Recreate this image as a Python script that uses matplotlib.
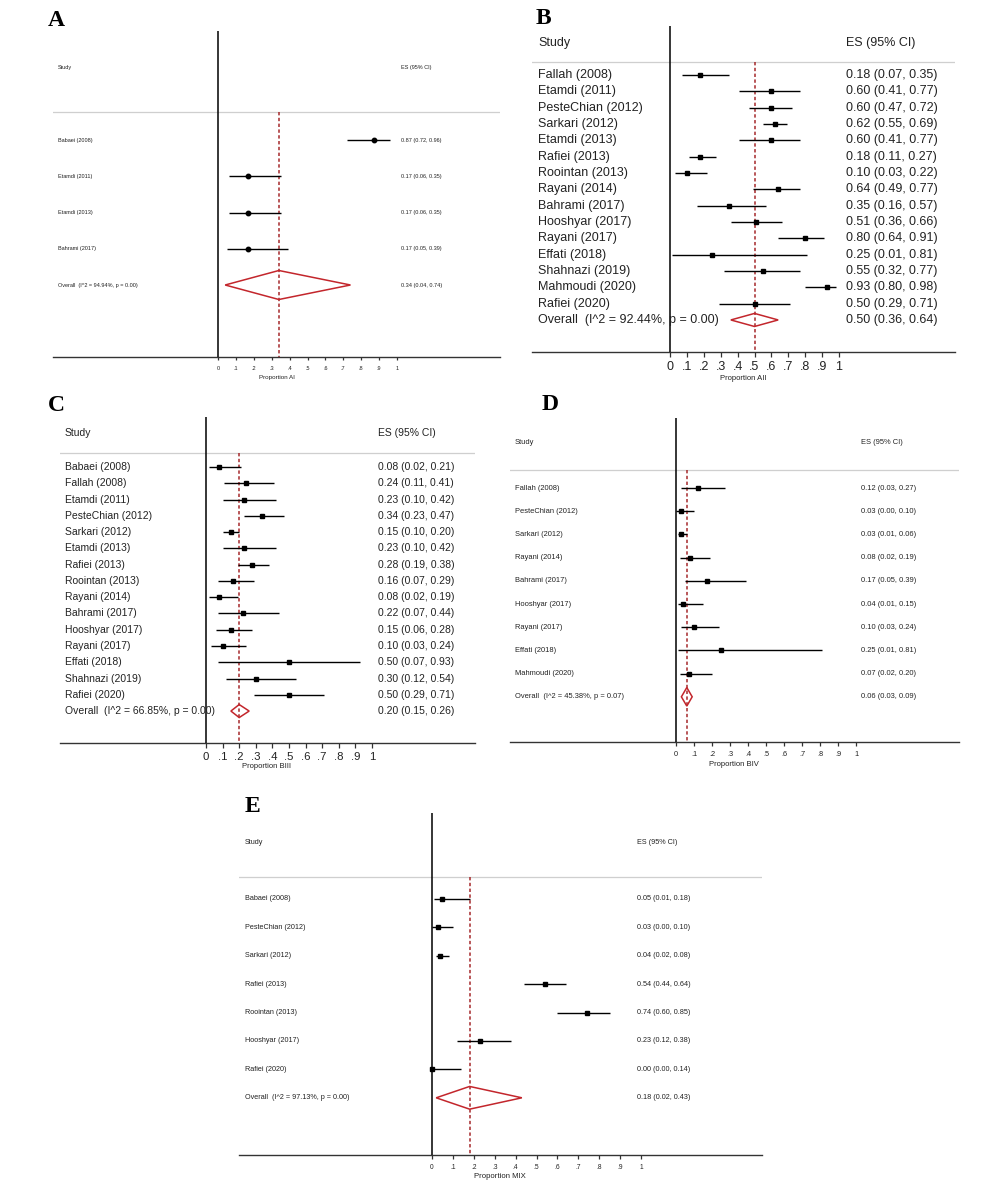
import numpy as np
import matplotlib
matplotlib.use("Agg")
import matplotlib.pyplot as plt
from matplotlib.patches import Polygon

plt.rcParams['font.family'] = ['Liberation Sans', 'DejaVu Sans']

# ---------------- DATA ----------------
tick_values = [0, .1, .2, .3, .4, .5, .6, .7, .8, .9, 1]
tick_labels = ['0', '.1', '.2', '.3', '.4', '.5', '.6', '.7', '.8', '.9', '1']

a_studies = ['Babaei (2008)', 'Etamdi (2011)', 'Etamdi (2013)', 'Bahrami (2017)']
a_es = [0.87, 0.17, 0.17, 0.17]
a_lo = [0.72, 0.06, 0.06, 0.05]
a_hi = [0.96, 0.35, 0.35, 0.39]
a_overall = (0.34, 0.04, 0.74)
a_overall_label = 'Overall  (I^2 = 94.94%, p = 0.00)'

b_studies = ['Fallah (2008)', 'Etamdi (2011)', 'PesteChian (2012)', 'Sarkari (2012)',
             'Etamdi (2013)', 'Rafiei (2013)', 'Roointan (2013)', 'Rayani (2014)',
             'Bahrami (2017)', 'Hooshyar (2017)', 'Rayani (2017)', 'Effati (2018)',
             'Shahnazi (2019)', 'Mahmoudi (2020)', 'Rafiei (2020)']
b_es = [0.18, 0.60, 0.60, 0.62, 0.60, 0.18, 0.10, 0.64, 0.35, 0.51, 0.80, 0.25, 0.55, 0.93, 0.50]
b_lo = [0.07, 0.41, 0.47, 0.55, 0.41, 0.11, 0.03, 0.49, 0.16, 0.36, 0.64, 0.01, 0.32, 0.80, 0.29]
b_hi = [0.35, 0.77, 0.72, 0.69, 0.77, 0.27, 0.22, 0.77, 0.57, 0.66, 0.91, 0.81, 0.77, 0.98, 0.71]
b_overall = (0.50, 0.36, 0.64)
b_overall_label = 'Overall  (I^2 = 92.44%, p = 0.00)'

c_studies = ['Babaei (2008)', 'Fallah (2008)', 'Etamdi (2011)', 'PesteChian (2012)',
             'Sarkari (2012)', 'Etamdi (2013)', 'Rafiei (2013)', 'Roointan (2013)',
             'Rayani (2014)', 'Bahrami (2017)', 'Hooshyar (2017)', 'Rayani (2017)',
             'Effati (2018)', 'Shahnazi (2019)', 'Rafiei (2020)']
c_es = [0.08, 0.24, 0.23, 0.34, 0.15, 0.23, 0.28, 0.16, 0.08, 0.22, 0.15, 0.10, 0.50, 0.30, 0.50]
c_lo = [0.02, 0.11, 0.10, 0.23, 0.10, 0.10, 0.19, 0.07, 0.02, 0.07, 0.06, 0.03, 0.07, 0.12, 0.29]
c_hi = [0.21, 0.41, 0.42, 0.47, 0.20, 0.42, 0.38, 0.29, 0.19, 0.44, 0.28, 0.24, 0.93, 0.54, 0.71]
c_overall = (0.20, 0.15, 0.26)
c_overall_label = 'Overall  (I^2 = 66.85%, p = 0.00)'

d_studies = ['Fallah (2008)', 'PesteChian (2012)', 'Sarkari (2012)', 'Rayani (2014)',
             'Bahrami (2017)', 'Hooshyar (2017)', 'Rayani (2017)', 'Effati (2018)',
             'Mahmoudi (2020)']
d_es = [0.12, 0.03, 0.03, 0.08, 0.17, 0.04, 0.10, 0.25, 0.07]
d_lo = [0.03, 0.00, 0.01, 0.02, 0.05, 0.01, 0.03, 0.01, 0.02]
d_hi = [0.27, 0.10, 0.06, 0.19, 0.39, 0.15, 0.24, 0.81, 0.20]
d_overall = (0.06, 0.03, 0.09)
d_overall_label = 'Overall  (I^2 = 45.38%, p = 0.07)'

e_studies = ['Babaei (2008)', 'PesteChian (2012)', 'Sarkari (2012)', 'Rafiei (2013)',
             'Roointan (2013)', 'Hooshyar (2017)', 'Rafiei (2020)']
e_es = [0.05, 0.03, 0.04, 0.54, 0.74, 0.23, 0.00]
e_lo = [0.01, 0.00, 0.02, 0.44, 0.60, 0.12, 0.00]
e_hi = [0.18, 0.10, 0.08, 0.64, 0.85, 0.38, 0.14]
e_overall = (0.18, 0.02, 0.43)
e_overall_label = 'Overall  (I^2 = 97.13%, p = 0.00)'

# ---------------- LAYOUT ----------------
W, H = 1000, 1204
fig = plt.figure(figsize=(W / 100, H / 100), dpi=100)
fig.patch.set_facecolor('white')

RED_LINE = '#a5282b'
RED_DIAM = '#c3262c'


def panel(letter, studies, es, lo, hi, overall, overall_label, xlabel, g):
    left, right, top, axis = g['left'], g['right'], g['top'], g['axis']
    x0, x1, r0, sp = g['x0'], g['x1'], g['r0'], g['sp']
    scale = x1 - x0
    ax = fig.add_axes([left / W, 1 - axis / H, (right - left) / W, (axis - top) / H])
    ax.patch.set_alpha(0)
    ax.set_xlim((left - x0) / scale, (right - x0) / scale)
    ax.set_ylim((axis - r0) / sp, (top - r0) / sp)

    n = len(studies)
    rows = np.arange(n)
    orow = n
    hdr_row = (g['hdr_line'] - r0) / sp
    hdr_text_row = (g['hdr_text'] - r0) / sp
    lx = (g['label_x'] - x0) / scale
    ex = (g['es_x'] - x0) / scale
    fs = g['fs']

    # axes decorations
    for s in ['top', 'right', 'left']:
        ax.spines[s].set_visible(False)
    ax.spines['bottom'].set_color('#333333')
    ax.spines['bottom'].set_linewidth(1.0)
    ax.set_yticks([])
    ax.set_xticks(tick_values)
    ax.set_xticklabels(tick_labels)
    ax.tick_params(axis='x', length=g['tlen'], width=0.9, color='#333333',
                   pad=g['tpad'], labelsize=g['tfs'], labelcolor='#222222')

    ax.axhline(hdr_row, color='#cfcfcf', lw=0.9, zorder=1)
    ax.axvline(0, color='black', lw=1.1, zorder=3)
    ax.vlines(overall[0], hdr_row, (axis - r0) / sp, colors=RED_LINE, lw=1.1,
              linestyles=(0, (2.2, 1.6)), zorder=2)

    # studies
    ax.hlines(rows, lo, hi, colors='black', lw=1.0, zorder=4)
    ax.plot(es, rows, linestyle='none', marker=g['marker'], ms=g['ms'],
            color='black', zorder=5)
    # overall diamond
    es_o, lo_o, hi_o = overall
    dh = 0.4
    diamond = Polygon([(lo_o, orow), (es_o, orow - dh), (hi_o, orow), (es_o, orow + dh)],
                      closed=True, facecolor='none', edgecolor=RED_DIAM, lw=1.1, zorder=5)
    ax.add_patch(diamond)

    # text
    ax.text(lx, hdr_text_row, 'Study', fontsize=fs, va='center', ha='left', color='#222222')
    ax.text(ex, hdr_text_row, 'ES (95% CI)', fontsize=fs, va='center', ha='left', color='#222222')
    for r, name, e, l, h in zip(rows, studies, es, lo, hi):
        ax.text(lx, r, name, fontsize=fs, va='center', ha='left', color='#222222')
        ax.text(ex, r, f'{e:.2f} ({l:.2f}, {h:.2f})', fontsize=fs, va='center', ha='left',
                color='#222222')
    ax.text(lx, orow, overall_label, fontsize=fs, va='center', ha='left', color='#222222')
    ax.text(ex, orow, f'{es_o:.2f} ({lo_o:.2f}, {hi_o:.2f})', fontsize=fs, va='center',
            ha='left', color='#222222')

    # x label (below the axis line)
    xl_x = (g['xl_x'] - x0) / scale
    xl_y = (axis - g['xl_y']) / (axis - top)
    ax.text(xl_x, xl_y, xlabel, fontsize=g['xlfs'], ha='center', va='center',
            transform=ax.get_xaxis_transform(), color='#222222')

    # panel letter
    fig.text(g['lt_x'] / W, 1 - g['lt_y'] / H, letter, fontsize=17, fontweight='bold',
             family=['Liberation Serif', 'DejaVu Serif'], ha='center', va='center')
    return ax


gA = dict(left=53, right=500, top=31, axis=357, x0=218, x1=397, r0=140, sp=36.25,
          hdr_text=67, hdr_line=112, label_x=58, es_x=401, fs=4.0, tfs=4.0, tpad=4.0,
          tlen=2.5, xl_x=277, xl_y=377, xlfs=4.5, lt_x=56, lt_y=21, marker='o', ms=3.2)
gB = dict(left=532, right=955, top=26, axis=352, x0=670, x1=839, r0=75, sp=16.33,
          hdr_text=43, hdr_line=62, label_x=538, es_x=846, fs=9.0, tfs=9.0, tpad=3.0,
          tlen=3.5, xl_x=743, xl_y=378, xlfs=5.5, lt_x=543, lt_y=19, marker='s', ms=3.0)
gC = dict(left=60, right=475, top=417, axis=743, x0=206, x1=372, r0=467, sp=16.27,
          hdr_text=433, hdr_line=453, label_x=65, es_x=378, fs=7.5, tfs=8.2, tpad=3.0,
          tlen=3.3, xl_x=267, xl_y=767, xlfs=5.5, lt_x=56, lt_y=406, marker='s', ms=3.0)
gD = dict(left=510, right=959, top=418, axis=742, x0=676, x1=856, r0=488, sp=23.2,
          hdr_text=442, hdr_line=470, label_x=515, es_x=861, fs=5.4, tfs=5.3, tpad=3.5,
          tlen=3.0, xl_x=734, xl_y=764, xlfs=5.5, lt_x=550, lt_y=404, marker='s', ms=3.0)
gE = dict(left=239, right=762, top=813, axis=1155, x0=432, x1=641, r0=899, sp=28.4,
          hdr_text=843, hdr_line=877, label_x=245, es_x=637, fs=5.2, tfs=4.8, tpad=3.5,
          tlen=3.0, xl_x=500, xl_y=1176, xlfs=5.6, lt_x=252, lt_y=807, marker='s', ms=3.0)

panel('A', a_studies, a_es, a_lo, a_hi, a_overall, a_overall_label, 'Proportion AI', gA)
panel('B', b_studies, b_es, b_lo, b_hi, b_overall, b_overall_label, 'Proportion AII', gB)
panel('C', c_studies, c_es, c_lo, c_hi, c_overall, c_overall_label, 'Proportion BIII', gC)
panel('D', d_studies, d_es, d_lo, d_hi, d_overall, d_overall_label, 'Proportion BIV', gD)
panel('E', e_studies, e_es, e_lo, e_hi, e_overall, e_overall_label, 'Proportion MIX', gE)

fig.savefig('out.png', dpi=100, facecolor='white')
